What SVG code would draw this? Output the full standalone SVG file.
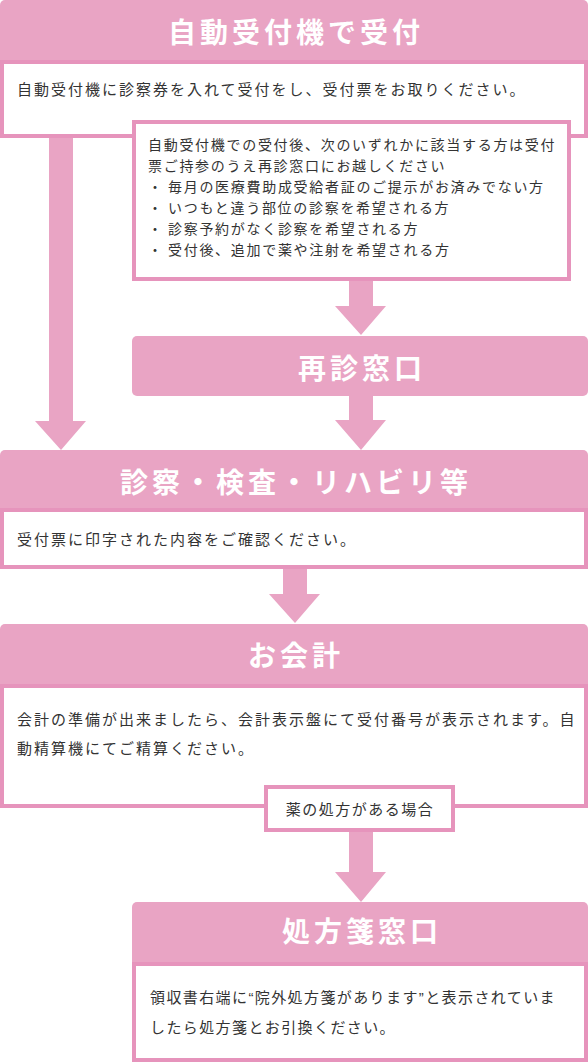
<svg xmlns="http://www.w3.org/2000/svg" width="588" height="1062" viewBox="0 0 588 1062">
<style>
.hd{fill:#e9a4c4}
.bd{fill:#fff;stroke:#e694bc;stroke-width:4}
.arr{fill:#e9a4c4}
.ht{font-family:"Noto Sans CJK JP",sans-serif;font-weight:700;font-size:28px;letter-spacing:4px;fill:#fff;text-anchor:middle}
.bt{font-family:"Liberation Sans","Noto Sans CJK JP",sans-serif;font-size:15px;letter-spacing:2px;fill:#333}
.nt{font-family:"Liberation Sans","Noto Sans CJK JP",sans-serif;font-size:14px;letter-spacing:1.7px;fill:#333}
</style>
<rect width="588" height="1062" fill="#fff"/>
<g id="connectors">
<polygon class="arr" points="49,138 73,138 73,421 86,421 61,450 35,421 49,421"/>
<polygon class="arr" points="349,281 373,281 373,306 386,306 361,335 335,306 349,306"/>
<polygon class="arr" points="349,396 373,396 373,420 386,420 361,450 335,420 349,420"/>
<polygon class="arr" points="283,569 307,569 307,594 320,594 295,623 269,594 283,594"/>
<polygon class="arr" points="349,832 373,832 373,872 386,872 361,902 335,872 349,872"/>
</g>
<g id="node-reception">
<path class="hd" d="M0,5 A5,5 0 0 1 5,0 H583 A5,5 0 0 1 588,5 V62 H0 Z"/>
<text class="ht" x="296" y="43">自動受付機で受付</text>
<rect class="bd" x="2" y="62" width="584" height="74"/>
<text class="bt" x="17" y="95">自動受付機に診察券を入れて受付をし、受付票をお取りください。</text>
</g>
<g id="node-note">
<rect class="bd" x="134" y="122" width="435" height="157"/>
<text class="nt" x="148" y="150">自動受付機での受付後、次のいずれかに該当する方は受付</text>
<text class="nt" x="148" y="171">票ご持参のうえ再診窓口にお越しください</text>
<text class="nt" y="192"><tspan x="148">・</tspan><tspan x="168">毎月の医療費助成受給者証のご提示がお済みでない方</tspan></text>
<text class="nt" y="213"><tspan x="148">・</tspan><tspan x="168">いつもと違う部位の診察を希望される方</tspan></text>
<text class="nt" y="233.5"><tspan x="148">・</tspan><tspan x="168">診察予約がなく診察を希望される方</tspan></text>
<text class="nt" y="254.5"><tspan x="148">・</tspan><tspan x="168">受付後、追加で薬や注射を希望される方</tspan></text>
</g>
<g id="node-revisit">
<rect class="hd" x="132" y="336" width="456" height="60" rx="5"/>
<text class="ht" x="362" y="379">再診窓口</text>
</g>
<g id="node-exam">
<path class="hd" d="M0,455 A5,5 0 0 1 5,450 H583 A5,5 0 0 1 588,455 V510 H0 Z"/>
<text class="ht" x="296" y="492.5">診察・検査・リハビリ等</text>
<rect class="bd" x="2" y="510" width="584" height="57"/>
<text class="bt" x="17" y="545">受付票に印字された内容をご確認ください。</text>
</g>
<g id="node-payment">
<path class="hd" d="M0,629 A5,5 0 0 1 5,624 H583 A5,5 0 0 1 588,629 V686 H0 Z"/>
<text class="ht" x="296" y="666">お会計</text>
<rect class="bd" x="2" y="686" width="584" height="120"/>
<text class="bt" x="17" y="725">会計の準備が出来ましたら、会計表示盤にて受付番号が表示されます。自</text>
<text class="bt" x="17" y="754">動精算機にてご精算ください。</text>
</g>
<g id="label-prescription">
<rect class="bd" x="266" y="787" width="187" height="43"/>
<text class="bt" x="360" y="815" text-anchor="middle" style="letter-spacing:1.5px">薬の処方がある場合</text>
</g>
<g id="node-pharmacy">
<path class="hd" d="M132,907 A5,5 0 0 1 137,902 H583 A5,5 0 0 1 588,907 V964 H132 Z"/>
<text class="ht" x="362" y="942">処方箋窓口</text>
<rect class="bd" x="134" y="964" width="452" height="96"/>
<text class="bt" x="150" y="1003" style="letter-spacing:1.4px">領収書右端に“院外処方箋があります”と表示されていま</text>
<text class="bt" x="150" y="1033" style="letter-spacing:1.4px">したら処方箋とお引換ください。</text>
</g>
</svg>
